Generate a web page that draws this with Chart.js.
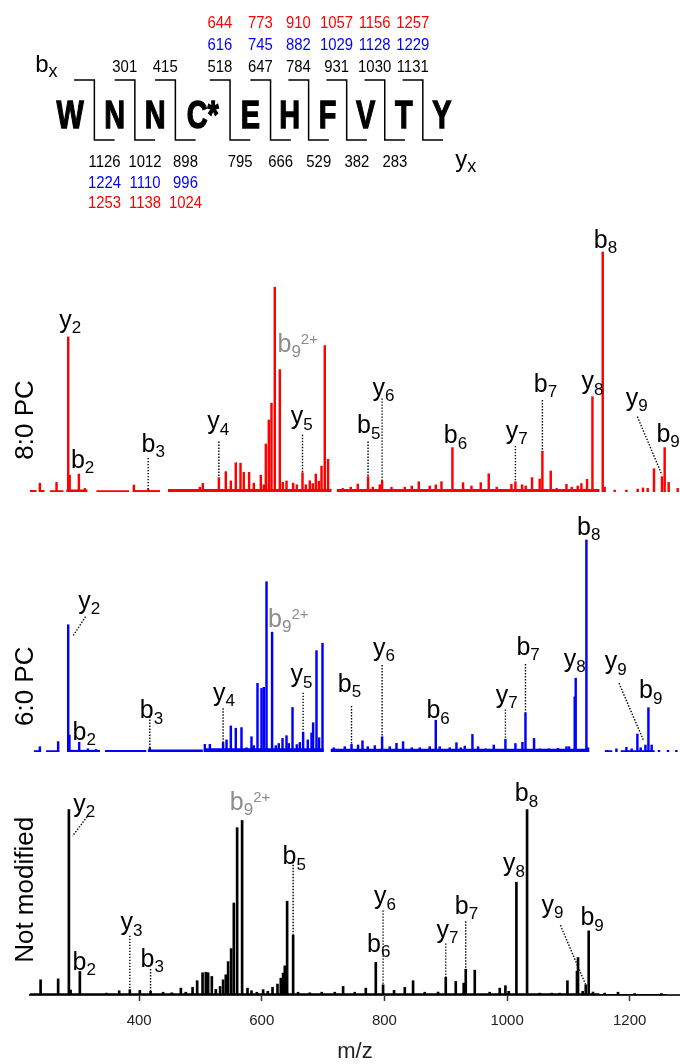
<!DOCTYPE html>
<html>
<head>
<meta charset="utf-8">
<script src="https://cdn.jsdelivr.net/npm/chart.js@4.4.1/dist/chart.umd.min.js"></script>
<style>
  body { margin: 0; background: #fff; }
  #wrap { position: relative; width: 680px; height: 1064px; overflow: hidden; }
  canvas { position: absolute; left: 0; }
</style>
</head>
<body>
<div id="wrap">
  <canvas id="seq" width="680" height="215" style="top:0px"></canvas>
  <canvas id="red" width="680" height="280" style="top:215px"></canvas>
  <canvas id="blue" width="680" height="260" style="top:495px"></canvas>
  <canvas id="black" width="680" height="308" style="top:755px"></canvas>
</div>
<script>
const FONT = '"Liberation Sans", Arial, Helvetica, sans-serif';

// peptide fragment map
const residues = ['W', 'N', 'N', 'C*', 'E', 'H', 'F', 'V', 'T', 'Y'];
const residueWidth = [1.2, 1, 1, 1.35, 1, 0.94, 0.94, 0.94, 0.94, 0.94];
const bBlack = [null, 301, 415, 518, 647, 784, 931, 1030, 1131];
const bBlue  = [null, null, null, 616, 745, 882, 1029, 1128, 1229];
const bRed   = [null, null, null, 644, 773, 910, 1057, 1156, 1257];
const yBlack = [1126, 1012, 898, 795, 666, 529, 382, 283, null];
const yBlue  = [1224, 1110, 996, null, null, null, null, null, null];
const yRed   = [1253, 1138, 1024, null, null, null, null, null, null];

// spectra: [m/z, relative intensity %]
const redPeaks = [[238.1,3.7],[265.3,4.0],[284.3,64.6],[286.7,7],[301.7,7.5],[311.5,1.5],[391.4,2.9],[414.7,1.2],
  [499,2],[503.8,3.6],[530,6],[541.3,8.5],[549.5,4.6],[557.6,12.2],[565.3,12],[570.7,8.2],[579.3,8.2],[587,3.7],
  [598.4,7],[603.3,3],[606.6,20],[611.4,30],[615.8,37],[621.2,85.3],[629.4,51],[634.3,4],[640.3,4.6],[651.1,3.7],
  [657.1,3],[666.4,8],[671.8,3],[678.3,4.7],[683.2,3.5],[688.1,7.5],[693,4.5],[697.4,10.8],[702.7,61],[708.1,13.6],
  [732.1,1.5],[745.1,2],[756.5,3.3],[773.3,6.4],[781,2],[792.4,3],[796.2,4.7],[811.5,2],[833.2,2],[844.6,2.5],
  [856,4.3],[873.9,2.5],[883.7,3],[893,4.3],[910.9,18.5],[928.2,3.9],[941.9,2.5],[957.1,3.9],[970.1,7.6],[983.1,2],
  [1007.1,3.2],[1013.6,4.3],[1024.4,3],[1030.4,2.5],[1040.7,6],[1053.2,5.4],[1057.6,17],[1071.2,8.75],[1081,1.5],
  [1096.8,3.2],[1105.4,2],[1115.2,2.5],[1121.2,3.5],[1130.4,5.3],[1139.2,39.7],[1156,100],[1159.2,2],[1175.5,0.8],
  [1194.6,0.8],[1213,1.2],[1221.6,1.7],[1229.3,1.5],[1239.6,9.7],[1252.6,6.4],[1257,18.5],[1263.5,4],[1278.2,1.5]];

const bluePeaks = [[238.1,2.5],[267.9,4.9],[284.3,60],[286.3,8],[302.2,4.6],[316.4,1.5],[329.4,1.2],[417.4,1.9],
  [507.1,3.6],[515.3,3.6],[536.9,4.4],[542.5,5.7],[549.5,12.3],[557.6,11.2],[566.9,11.5],[575.1,2],[583.2,7.2],[587,3],
  [593,32.4],[599.5,30],[603.3,30.5],[607.7,80.3],[616.8,56.5],[622.9,3],[627.7,4],[633.8,6.4],[640.3,7.7],[644,4],
  [650.1,21],[657.1,3.5],[662,4.5],[667.4,9.3],[675,5.7],[681.1,9],[683.7,13.8],[689.2,47.8],[693.4,6.7],[699,51.3],
  [717.4,2],[735.3,2.5],[746.3,3.6],[757,3.3],[764.2,5.3],[772.8,2.5],[784.3,3],[796.2,7.2],[808.7,2.5],[819.6,4.1],
  [830.4,4.9],[844.6,2],[857.6,2],[873.9,2.5],[883.7,15],[890.2,2.5],[906.5,2],[917.4,4.4],[924.5,2],[931,2.8],
  [943.5,8.3],[952.7,2.5],[965.2,1.5],[978.3,3.3],[997.3,6],[1013.6,4],[1025,4.6],[1030,18.5],[1044,6.4],[1053.2,1.5],
  [1067.9,1.5],[1083.1,1.7],[1096.8,2.5],[1101,2.5],[1110.3,26],[1111.9,34.8],[1129.4,100],[1132,2],[1163,0.8],
  [1178.3,1.5],[1194.6,2.2],[1203.2,1.5],[1212.5,8.5],[1217.9,2],[1225.6,3.3],[1230.5,20.9],[1235.8,3.3],
  [1247.7,0.8],[1262.4,0.8],[1276.1,0.8]];

const blackPeaks = [[239.3,8.2],[267.9,8.7],[285.4,100],[288.2,2.7],[303.3,12.7],[346.9,1],[367.4,2.3],[384.8,2.9],
  [401.1,2.5],[418.6,2],[439.1,1.5],[453.3,1.2],[468,3.7],[476.1,1.5],[487.1,4.1],[494.6,7.7],[503.4,12],[508.7,12.3],
  [512.5,12],[518.5,10],[525,3],[532,4.6],[536.9,8.2],[541.3,10.9],[545.1,18],[550,25],[554.4,49.6],[559.8,90.2],
  [567.9,94.1],[576.7,3.7],[583.2,2.3],[591.9,1.5],[602.2,2.9],[609.8,2],[617.5,4.1],[625.6,5.9],[631,9.1],[634.8,11.8],
  [637.5,15.7],[641.3,50.6],[651.1,32.2],[659.2,1.5],[678.3,1.2],[697.8,1.5],[719,1.5],[732.6,4.6],[751.6,1.5],
  [769.6,3.7],[785.9,17.6],[797.8,5.5],[815.7,2.5],[833.2,4.1],[846.7,7.7],[865.8,1.5],[887.5,1.6],[900,9.6],
  [916.3,7.3],[929.3,6.4],[932.6,13.9],[947.3,13.4],[971.7,1.5],[988,3.7],[997.3,5],[1002.7,2],[1015.2,60.8],
  [1032.6,100],[1053.2,1],[1072.8,1],[1085.9,1],[1098.4,7.7],[1114,12.8],[1115.7,20.2],[1123.3,2],[1128.3,5.5],
  [1133.1,34.6],[1140.1,1.6],[1159.2,1],[1180.9,1.5],[1208.1,0.8],[1251.6,0.8]];

// baseline noise level, null = gap
const redNoise = [[222,0.8],[233,0.8],[233.5,null],[238,0.8],[246,0.8],[250,null],[254,0.7],[277,0.7],[279,null],
  [281,1],[316,1],[322,null],[330,0.7],[384,0.7],[387,null],[390,0.8],[434,0.8],[440,null],[447,1.2],[714,1.2],
  [718,null],[722,1.2],[1151,1.2],[1155,null]];
const blueNoise = [[228,0.8],[240,0.8],[244,null],[248,0.8],[270,0.8],[277,null],[284,1],[336,1],[340,null],
  [344,0.9],[412,0.9],[413,null],[414,1.2],[504,1.2],[505.5,null],[507,1.8],[701,1.8],[706,null],[712,1.5],
  [1134,1.5],[1146,null],[1159,0.8],[1172,0.8],[1178,null],[1185,0.8],[1241,0.8]];
const blackNoise = [[222,0.9],[1150,0.9],[1151,0.5],[1260,0.5]];

// ion labels: [ion, subscript, superscript, m/z of text start, intensity of baseline]
const redIons = [['y','2','',269.6,68.5],['b','2','',288.7,10],['b','3','',403.9,16.8],['y','4','',510.9,26.2],
  ['b','9','2+',625.6,58.5],['y','5','',647.3,28.3],['b','5','',755.4,24.5],['y','6','',780.5,40],['b','6','',896.8,20.3],
  ['y','7','',997.8,22.1],['b','7','',1043.5,41.8],['y','8','',1121.2,42.9],['b','8','',1141.3,101.7],
  ['y','9','',1193.4,35.9],['b','9','',1243.5,21]];
const blueIons = [['y','2','',300.6,67.5],['b','2','',291.4,5.7],['b','3','',401.1,15.9],['y','4','',520.6,24.2],
  ['b','9','2+',610.3,59.1],['y','5','',646.8,32.8],['b','5','',723.9,28.4],['y','6','',781.5,45.4],['b','6','',868.5,15.9],
  ['y','7','',981.5,23.3],['b','7','',1015.3,45.8],['y','8','',1092.4,40.3],['b','8','',1114.1,102.4],
  ['y','9','',1159.2,39],['b','9','',1215.2,25.3]];
const blackIons = [['y','2','',292.4,98.7],['b','2','',291.4,13.5],['y','3','',369.7,34.9],['b','3','',402.3,15.3],
  ['b','9','2+',547.9,100],['b','5','',633.8,70.6],['b','6','',771.7,23.4],['y','6','',783.1,48.8],['y','7','',884.8,30.9],
  ['b','7','',914.7,43.9],['y','8','',993.4,66.6],['b','8','',1012.5,104.4],['y','9','',1056,44.3],['b','9','',1119.6,37.6]];

// dotted leaders: [m/z from, int from, m/z to, int to]
const redLeaders = [[414.7,14.2,414.7,1.2],[530,21,530,6],[666.4,23.8,666.4,8],[773.3,21,773.3,6.4],
  [796.2,39,796.2,4.7],[1013.6,19.2,1013.6,4.3],[1057.6,38.3,1057.6,17],[1212.5,31.4,1252.6,7.1]];
const blueLeaders = [[312.6,63.8,291.4,54.4],[417.4,16.7,417.4,1.9],[536.9,20.6,536.9,4.4],[667.4,28,667.4,9.3],
  [746.3,21.7,746.3,3.6],[796.2,41,796.2,7.2],[997.3,20.1,997.3,6],[1030,41.5,1030,18.5],[1182.5,32.4,1222.8,5.3]];
const blackLeaders = [[315.2,96.1,291.4,85.7],[384.8,32,384.8,2.9],[418.6,14,418.6,2],[651.1,71.8,651.1,32.2],
  [797.8,45.6,797.8,5.5],[900,27.8,900,9.6],[932.6,39.7,932.6,13.9],[1087,37.6,1128.3,5.5]];

const mzTicks = [400, 600, 800, 1000, 1200];
const mzMin = 222, mzMax = 1282;

// ---------- sequence map ----------
const seqRows = {bRed: 1.32, bBlue: 2.33, bBlack: 3.33, top: 3.72, letter: 5.97, bottom: 6.51,
                 yBlack: 7.75, yBlue: 8.76, yRed: 9.69};

const seqPlugin = {
  id: 'seqmap',
  afterDraw(chart) {
    const {ctx, scales: {x, y}} = chart;
    let cum = 0;
    const centers = [], bounds = [];
    residueWidth.forEach(w => { centers.push(cum + w / 2); cum += w; bounds.push(cum); });

    ctx.save();
    ctx.fillStyle = '#000';
    ctx.strokeStyle = '#000';
    ctx.textBaseline = 'alphabetic';
    ctx.textAlign = 'center';
    ctx.font = 'bold 39px ' + FONT;
    ctx.lineWidth = 1.3;
    residues.forEach((r, i) => {
      ctx.save();
      ctx.translate(x.getPixelForValue(centers[i]), y.getPixelForValue(seqRows.letter));
      ctx.scale(0.74, 1);
      ctx.fillText(r, 0, 0);
      ctx.strokeText(r, 0, 0);
      ctx.restore();
    });

    ctx.lineWidth = 1.5;
    for (let k = 0; k < residues.length - 1; k++) {
      const b = bounds[k];
      ctx.beginPath();
      ctx.moveTo(x.getPixelForValue(b - 0.5), y.getPixelForValue(seqRows.top));
      ctx.lineTo(x.getPixelForValue(b), y.getPixelForValue(seqRows.top));
      ctx.lineTo(x.getPixelForValue(b), y.getPixelForValue(seqRows.bottom));
      ctx.lineTo(x.getPixelForValue(b + 0.5), y.getPixelForValue(seqRows.bottom));
      ctx.stroke();
    }

    const num = (arr, row, color, shift) => {
      ctx.fillStyle = color;
      ctx.font = '16px ' + FONT;
      arr.forEach((v, k) => {
        if (v === null) return;
        ctx.save();
        ctx.translate(x.getPixelForValue(bounds[k] + shift), y.getPixelForValue(row));
        ctx.scale(0.93, 1);
        ctx.fillText(String(v), 0, 0);
        ctx.restore();
      });
    };
    num(bRed, seqRows.bRed, '#ff0000', -0.25);
    num(bBlue, seqRows.bBlue, '#0000ff', -0.25);
    num(bBlack, seqRows.bBlack, '#000', -0.25);
    num(yBlack, seqRows.yBlack, '#000', 0.25);
    num(yBlue, seqRows.yBlue, '#0000ff', 0.25);
    num(yRed, seqRows.yRed, '#ff0000', 0.25);

    // b_x and y_x keys
    ctx.fillStyle = '#000';
    ctx.textAlign = 'left';
    const key = (t, xv, row) => {
      const px = x.getPixelForValue(xv), py = y.getPixelForValue(row);
      ctx.font = '24px ' + FONT;
      ctx.fillText(t, px, py);
      const w = ctx.measureText(t).width;
      ctx.font = '18px ' + FONT;
      ctx.fillText('x', px + w, py + 5);
    };
    key('b', -0.26, 3.33);
    key('y', 10.11, 7.77);
    ctx.restore();
  }
};

new Chart(document.getElementById('seq'), {
  type: 'scatter',
  data: {datasets: []},
  options: {
    responsive: false, animation: false, events: [],
    layout: {padding: 0},
    scales: {
      x: {type: 'linear', min: -1.13, max: 15.66, display: false},
      y: {type: 'linear', min: 0, max: 10, reverse: true, display: false}
    },
    plugins: {legend: {display: false}, tooltip: {enabled: false}}
  },
  plugins: [seqPlugin]
});

// ---------- spectra ----------
const ionPlugin = {
  id: 'ions',
  afterDatasetsDraw(chart, args, opts) {
    const {ctx, scales: {x, y}} = chart;
    ctx.save();
    ctx.strokeStyle = '#000';
    ctx.lineWidth = 1.4;
    ctx.setLineDash([1.4, 1.6]);
    opts.leaders.forEach(([m1, i1, m2, i2]) => {
      ctx.beginPath();
      ctx.moveTo(x.getPixelForValue(m1), y.getPixelForValue(i1));
      ctx.lineTo(x.getPixelForValue(m2), y.getPixelForValue(i2));
      ctx.stroke();
    });
    ctx.setLineDash([]);

    ctx.textAlign = 'left';
    ctx.textBaseline = 'alphabetic';
    opts.labels.forEach(([ion, sub, sup, m, inten]) => {
      const px = x.getPixelForValue(m), py = y.getPixelForValue(inten);
      ctx.fillStyle = sup ? '#8c8c8c' : '#000';
      ctx.font = '25px ' + FONT;
      ctx.fillText(ion, px, py);
      const w = ctx.measureText(ion).width;
      ctx.font = '17px ' + FONT;
      ctx.fillText(sub, px + w, py + 5.5);
      if (sup) {
        const w2 = ctx.measureText(sub).width;
        ctx.font = '15px ' + FONT;
        ctx.fillText(sup, px + w + w2, py - 8);
      }
    });

    ctx.save();
    ctx.translate(26, y.getPixelForValue(opts.titleAt));
    ctx.rotate(-Math.PI / 2);
    ctx.fillStyle = '#000';
    ctx.font = '26px ' + FONT;
    ctx.textAlign = 'center';
    ctx.textBaseline = 'middle';
    ctx.fillText(opts.title, 0, 0);
    ctx.restore();
    ctx.restore();
  }
};

function spectrum(id, color, peaks, noise, yMax, barW, labels, leaders, title, titleAt, showAxis) {
  const xScale = {
    type: 'linear', min: mzMin, max: mzMax, offset: false, display: showAxis,
    afterBuildTicks: axis => { axis.ticks = mzTicks.map(v => ({value: v})); },
    grid: {display: true, drawOnChartArea: false, drawTicks: true, tickLength: 6, tickWidth: 1.5,
           tickColor: '#333', offset: false},
    border: {display: true, color: '#333', width: 2},
    ticks: {color: '#222', font: {family: FONT, size: 15, lineHeight: 0.8}, padding: 14, maxRotation: 0,
            callback: v => String(v)},
    title: {display: true, text: 'm/z', color: '#222', font: {family: FONT, size: 22, lineHeight: 1},
            padding: {top: 0, bottom: 0}}
  };
  return new Chart(document.getElementById(id), {
    type: 'bar',
    data: {
      datasets: [
        {
          type: 'bar',
          data: peaks.map(p => ({x: p[0], y: p[1]})),
          backgroundColor: color,
          borderWidth: 0,
          barThickness: barW,
          order: 1
        },
        {
          type: 'line',
          data: noise.map(p => ({x: p[0], y: p[1]})),
          backgroundColor: color,
          borderWidth: 0,
          pointRadius: 0,
          fill: 'origin',
          spanGaps: false,
          order: 2
        }
      ]
    },
    options: {
      responsive: false, animation: false, events: [],
      layout: {padding: {left: 30, right: 0, top: 0, bottom: showAxis ? 0 : 3}},
      scales: {
        x: xScale,
        y: {type: 'linear', min: 0, max: yMax, display: false}
      },
      plugins: {
        legend: {display: false},
        tooltip: {enabled: false},
        ions: {labels: labels, leaders: leaders, title: title, titleAt: titleAt}
      }
    },
    plugins: [ionPlugin]
  });
}

spectrum('red', '#ff0000', redPeaks, redNoise, 115.4, 1.8, redIons, redLeaders, '8:0 PC', 30, false);
spectrum('blue', '#0000ff', bluePeaks, blueNoise, 121.2, 1.8, blueIons, blueLeaders, '6:0 PC', 31, false);
spectrum('black', '#000000', blackPeaks, blackNoise, 129.4, 2, blackIons, blackLeaders, 'Not modified', 56.7, true);
</script>
</body>
</html>
